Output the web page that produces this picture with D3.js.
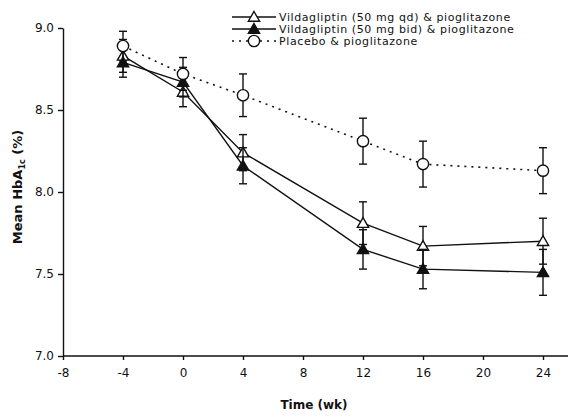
<!DOCTYPE html>
<html lang="en">
  <head>
    <meta charset="UTF-8" />
    <title>Mean HbA1c over time</title>
    <style>
      * {
        box-sizing: border-box;
        margin: 0;
        padding: 0;
      }
      body {
        background: #fff;
        width: 570px;
        height: 419px;
        overflow: hidden;
      }
      svg text {
        font-family: "DejaVu Sans", Arial, sans-serif;
        fill: #111;
      }
    </style>
  </head>
  <body>
    <svg id="chart" width="570" height="419"></svg>

    <script src="https://d3js.org/d3.v7.min.js"></script>
    <script>
      // weeks
      const weeks = [-4, 0, 4, 12, 16, 24];
      // vildagliptin 50 mg qd + pio
      const qdMean = [8.83, 8.61, 8.24, 7.81, 7.67, 7.7];
      const qdErr = [0.1, 0.09, 0.11, 0.13, 0.12, 0.14];
      // vildagliptin 50 mg bid + pio
      const bidMean = [8.79, 8.67, 8.16, 7.65, 7.53, 7.51];
      const bidErr = [0.09, 0.09, 0.11, 0.12, 0.12, 0.14];
      // placebo + pio
      const pboMean = [8.89, 8.72, 8.59, 8.31, 8.17, 8.13];
      const pboErr = [0.09, 0.1, 0.13, 0.14, 0.14, 0.14];

      const seriesNames = [
        "Vildagliptin (50 mg qd) & pioglitazone",
        "Vildagliptin (50 mg bid) & pioglitazone",
        "Placebo & pioglitazone",
      ];
      const xTicks = [-8, -4, 0, 4, 8, 12, 16, 20, 24];
      const yTicks = [7.0, 7.5, 8.0, 8.5, 9.0];

      const svg = d3.select("#chart");

      // echelles
      const x = d3.scaleLinear().domain([-8, 24]).range([63, 543]);
      const y = d3.scaleLinear().domain([7, 9]).range([356, 28]);

      // axe x (la ligne va jusqu'au bord)
      const gx = svg
        .append("g")
        .attr("transform", "translate(0,356)")
        .call(
          d3
            .axisBottom(x)
            .tickValues(xTicks)
            .tickFormat((d) => String(d))
            .tickSize(4)
            .tickSizeOuter(0)
            .tickPadding(8)
        );
      gx.select(".domain").attr("d", "M63,0H568");
      gx.selectAll("text").style("font-size", "12px");

      // axe y
      const gy = svg
        .append("g")
        .attr("transform", "translate(63,0)")
        .call(
          d3
            .axisLeft(y)
            .tickValues(yTicks)
            .tickFormat(d3.format(".1f"))
            .tickSize(5)
            .tickSizeOuter(0)
            .tickPadding(4)
        );
      gy.selectAll("text").style("font-size", "12px");
      svg.selectAll(".domain, .tick line").attr("stroke", "#111").attr("stroke-width", 1.4);

      // titres des axes
      svg
        .append("text")
        .attr("x", 314)
        .attr("y", 409)
        .attr("text-anchor", "middle")
        .style("font-size", "12px")
        .style("font-weight", "bold")
        .text("Time (wk)");

      const yTitle = svg
        .append("text")
        .attr("transform", "translate(22,187) rotate(-90)")
        .attr("text-anchor", "middle")
        .style("font-size", "13px")
        .style("font-weight", "bold");
      yTitle.append("tspan").text("Mean HbA");
      yTitle.append("tspan").attr("dy", 3).style("font-size", "8px").text("1c");
      yTitle.append("tspan").attr("dy", -3).text(" (%)");

      const series = [
        { name: seriesNames[0], mean: qdMean, err: qdErr, shape: "tri", fill: "#fff", dash: null },
        { name: seriesNames[1], mean: bidMean, err: bidErr, shape: "tri", fill: "#111", dash: null },
        { name: seriesNames[2], mean: pboMean, err: pboErr, shape: "circ", fill: "#fff", dash: "2,5" },
      ];

      const line = d3
        .line()
        .x((d) => x(d[0]))
        .y((d) => y(d[1]));

      const triangle = d3.symbol().type(d3.symbolTriangle).size(55);
      const circle = d3.symbol().type(d3.symbolCircle).size(100);

      function drawMarker(g, s, cx, cy) {
        g.append("path")
          .attr("d", s.shape === "tri" ? triangle() : circle())
          .attr("transform", `translate(${cx},${cy + (s.shape === "tri" ? 1 : 0)})`)
          .attr("fill", s.fill)
          .attr("stroke", "#111")
          .attr("stroke-width", 1.4);
      }

      series.forEach((s) => {
        const pts = weeks.map((w, i) => [w, s.mean[i], s.err[i]]);
        const g = svg.append("g");

        // barres d'erreur
        pts.forEach((p) => {
          const cx = x(p[0]);
          const y1 = y(p[1] + p[2]);
          const y2 = y(p[1] - p[2]);
          g.append("line")
            .attr("x1", cx).attr("x2", cx)
            .attr("y1", y1).attr("y2", y2)
            .attr("stroke", "#111").attr("stroke-width", 1.4);
          [y1, y2].forEach((yy) => {
            g.append("line")
              .attr("x1", cx - 4).attr("x2", cx + 4)
              .attr("y1", yy).attr("y2", yy)
              .attr("stroke", "#111").attr("stroke-width", 1.4);
          });
        });

        g.append("path")
          .datum(pts)
          .attr("d", line)
          .attr("fill", "none")
          .attr("stroke", "#111")
          .attr("stroke-width", s.dash ? 1.6 : 1.4)
          .attr("stroke-dasharray", s.dash);

        pts.forEach((p) => drawMarker(g, s, x(p[0]), y(p[1])));
      });

      // legende
      const legend = svg.append("g");
      series.forEach((s, i) => {
        const ly = 17 + i * 12;
        legend
          .append("line")
          .attr("x1", 232).attr("x2", 276)
          .attr("y1", ly).attr("y2", ly)
          .attr("stroke", "#111")
          .attr("stroke-width", s.dash ? 1.6 : 1.4)
          .attr("stroke-dasharray", s.dash);
        drawMarker(legend, s, 254, ly);
        legend
          .append("text")
          .attr("x", 279)
          .attr("y", ly + 4)
          .style("font-size", "11px")
          .style("letter-spacing", "0.6px")
          .text(s.name);
      });
    </script>
  </body>
</html>
